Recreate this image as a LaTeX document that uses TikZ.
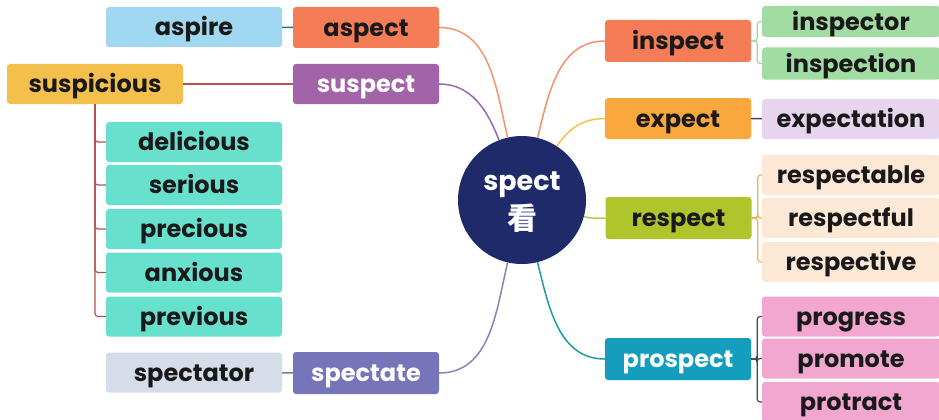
\documentclass[tikz,border=0pt]{standalone}
\usepackage{fontspec}
\setmainfont{Poppins}
\newfontfamily\cjkfont{Noto Sans CJK SC}
\definecolor{navy}{HTML}{1E2A6A}
\definecolor{skyfill}{HTML}{A0D8F1}
\definecolor{coral}{HTML}{F47D57}
\definecolor{mustard}{HTML}{F3C04C}
\definecolor{plum}{HTML}{A263A9}
\definecolor{mint}{HTML}{68E0CE}
\definecolor{mist}{HTML}{D5DDE8}
\definecolor{iris}{HTML}{7775B9}
\definecolor{amber}{HTML}{FAA73B}
\definecolor{lilac}{HTML}{E7D4EE}
\definecolor{olive}{HTML}{AFC52B}
\definecolor{cream}{HTML}{FCE8D4}
\definecolor{ocean}{HTML}{149DBC}
\definecolor{rose}{HTML}{F2A7D1}
\definecolor{leaf}{HTML}{A1DCA2}
\begin{document}
\begin{tikzpicture}[x=1pt,y=-1pt]
  \tikzstyle{word}=[rounded corners=3pt,inner sep=0pt,font=\bfseries\fontsize{24}{24}\selectfont,text height=21.5pt,text depth=4pt,text=black!90]
  \tikzstyle{leftbox}=[word,minimum width=176pt,minimum height=40pt]
  \tikzstyle{midbox}=[word,minimum width=146pt,minimum height=41pt]
  \tikzstyle{rightbox}=[word,minimum width=178pt,minimum height=40pt]
  \tikzstyle{link}=[line width=1.5pt]
  \tikzstyle{fork}=[line width=1.2pt,rounded corners=3pt]
  \useasboundingbox (0,0) rectangle (939,420);
  \node [circle,fill=navy,minimum size=128pt,inner sep=0pt] (hub) at (522,200) {};
  \node [text=white,font=\bfseries\fontsize{27}{27}\selectfont,anchor=base] (root) at (522,190) {spect};
  \node [text=white,font=\cjkfont\bfseries\fontsize{30}{30}\selectfont] (meaning) at (522,218) {看};
  \node [leftbox,fill=skyfill] (aspire) at (194,27) {aspire};
  \node [midbox,fill=coral] (aspect) at (366,27.5) {aspect};
  \node [leftbox,fill=mustard] (suspicious) at (95,84) {suspicious};
  \node [midbox,fill=plum,minimum height=40pt,text=white] (suspect) at (366,84) {suspect};
  \node [leftbox,fill=mint] (delicious) at (194,142) {delicious};
  \node [leftbox,fill=mint] (serious) at (194,185) {serious};
  \node [leftbox,fill=mint] (precious) at (194,229) {precious};
  \node [leftbox,fill=mint] (anxious) at (194,272.5) {anxious};
  \node [leftbox,fill=mint] (previous) at (194,316.5) {previous};
  \node [leftbox,fill=mist] (spectator) at (194,372.5) {spectator};
  \node [midbox,fill=iris,minimum height=42pt,text=white] (spectate) at (366,373) {spectate};
  \node [midbox,fill=coral,minimum height=42pt] (inspect) at (678,41) {inspect};
  \node [rightbox,fill=leaf,minimum height=31pt] (inspector) at (851,21.5) {inspector};
  \node [rightbox,fill=leaf,minimum height=32pt] (inspection) at (851,63.5) {inspection};
  \node [midbox,fill=amber] (expect) at (678,118.5) {expect};
  \node [rightbox,fill=lilac] (expectation) at (851,119) {expectation};
  \node [midbox,fill=olive,minimum height=42pt] (respect) at (678.5,218) {respect};
  \node [rightbox,fill=cream] (respectable) at (851,175) {respectable};
  \node [rightbox,fill=cream] (respectful) at (851,218) {respectful};
  \node [rightbox,fill=cream] (respective) at (851,262) {respective};
  \node [midbox,fill=ocean,minimum height=42pt,text=white] (prospect) at (678,359) {prospect};
  \node [rightbox,fill=rose] (progress) at (851,316.5) {progress};
  \node [rightbox,fill=rose] (promote) at (851,358.5) {promote};
  \node [rightbox,fill=rose] (protract) at (851,402) {protract};
  \draw [link,color={rgb,255:red,244;green,147;blue,110}] (aspect.east) to[out=0,in=103] (hub.103);
  \draw [link,color={rgb,255:red,155;green,106;blue,170}] (suspect.east) to[out=0,in=111] (hub.111);
  \draw [link,color={rgb,255:red,242;green,144;blue,112}] (inspect.west) to[out=180,in=76] (hub.76);
  \draw [link,color={rgb,255:red,247;green,192;blue,72}] (expect.west) to[out=180,in=57] (hub.57);
  \draw [link,color={rgb,255:red,181;green,203;blue,74}] (respect.west) to[out=180,in=-15] (hub.-15);
  \draw [link,color={rgb,255:red,136;green,131;blue,187}] (spectate.east) to[out=0,in=-103] (hub.-103);
  \draw [link,color={rgb,255:red,26;green,155;blue,170}] (prospect.west) to[out=180,in=-76] (hub.-76);
  \draw [link,color={rgb,255:red,46;green,111;blue,128}] (aspire) -- (aspect);
  \draw [link,color={rgb,255:red,184;green,80;blue,80}] (suspicious) -- (suspect);
  \draw [link,color={rgb,255:red,95;green,138;blue,160}] (spectator) -- (spectate);
  \draw [link,color={rgb,255:red,90;green,58;blue,106}] (expect) -- (expectation);
  \draw [fork,color={rgb,255:red,184;green,80;blue,76}] (suspicious.south) |- (delicious.west);
  \draw [fork,color={rgb,255:red,184;green,80;blue,76}] (suspicious.south) |- (serious.west);
  \draw [fork,color={rgb,255:red,184;green,80;blue,76}] (suspicious.south) |- (precious.west);
  \draw [fork,color={rgb,255:red,184;green,80;blue,76}] (suspicious.south) |- (anxious.west);
  \draw [fork,color={rgb,255:red,184;green,80;blue,76}] (suspicious.south) |- (previous.west);
  \draw [fork,color={rgb,255:red,160;green,214;blue,160}] (inspect.east) -- +(6,0) |- (inspector.west);
  \draw [fork,color={rgb,255:red,160;green,214;blue,160}] (inspect.east) -- +(6,0) |- (inspection.west);
  \draw [fork,color={rgb,255:red,240;green,176;blue,80}] (respect.east) -- +(6,0) |- (respectable.west);
  \draw [fork,color={rgb,255:red,240;green,176;blue,80}] (respect.east) -- +(6,0) |- (respectful.west);
  \draw [fork,color={rgb,255:red,240;green,176;blue,80}] (respect.east) -- +(6,0) |- (respective.west);
  \draw [fork,color={rgb,255:red,58;green,74;blue,90}] (prospect.east) -- +(6,0) |- (progress.west);
  \draw [fork,color={rgb,255:red,58;green,74;blue,90}] (prospect.east) -- +(6,0) |- (promote.west);
  \draw [fork,color={rgb,255:red,58;green,74;blue,90}] (prospect.east) -- +(6,0) |- (protract.west);
\end{tikzpicture}
\end{document}
